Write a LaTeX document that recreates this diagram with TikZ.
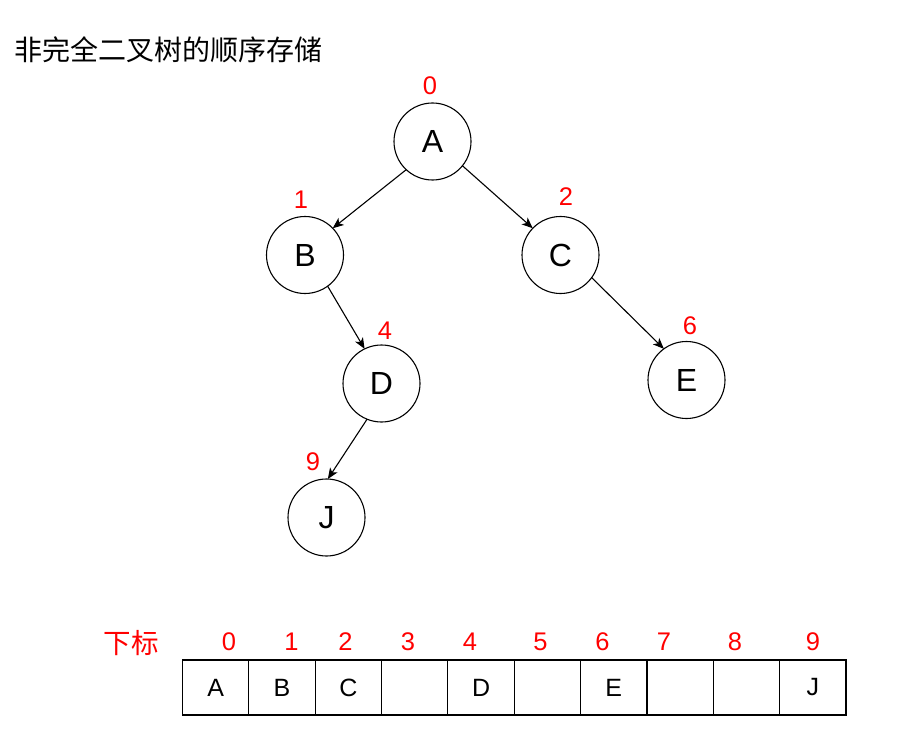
\documentclass[tikz,border=0pt]{standalone}
\usepackage{fontspec}
\setmainfont{Liberation Sans}
\newfontfamily\cjk{Noto Sans CJK SC}
\usetikzlibrary{arrows.meta}
\begin{document}
\begin{tikzpicture}[x=1pt,y=-1pt,
  tnode/.style={circle,draw,line width=1.1pt,minimum size=77pt,inner sep=0pt,outer sep=0pt,font=\fontsize{32}{32}\selectfont},
  idx/.style={text=red,inner sep=0pt,font=\fontsize{25.5}{25.5}\selectfont},
  cell/.style={draw,line width=1.1pt,minimum width=66.35pt,minimum height=55pt,inner sep=0pt,outer sep=0pt,font=\fontsize{25}{25}\selectfont},
  arr/.style={line width=1.1pt,-{Stealth[length=11pt,width=9pt,inset=3pt]}}]
\useasboundingbox[fill=white] (0,0) rectangle (908,733);
\node[anchor=west,inner sep=0pt,font=\cjk\fontsize{28}{28}\selectfont] (title) at (14,50) {非完全二叉树的顺序存储};
% tree nodes
\node[tnode] (A) at (432.5,141.5) {A};
\node[tnode] (B) at (305,255) {B};
\node[tnode] (C) at (560.5,255) {C};
\node[tnode] (D) at (381.5,383.5) {D};
\node[tnode] (E) at (686.5,380) {E};
\node[tnode] (J) at (326.5,517.5) {J};
% index labels
\node[idx] (l0) at (430,86) {0};
\node[idx] (l1) at (301,200) {1};
\node[idx] (l2) at (566,197) {2};
\node[idx] (l4) at (385,331) {4};
\node[idx] (l6) at (690,326) {6};
\node[idx] (l9) at (313,462) {9};
% edges
\draw[arr] (A.227) -- (B.44);
\draw[arr] (A.321) -- (C.136);
\draw[arr] (B.306) -- (D.116);
\draw[arr] (C.324) -- (E.126);
\draw[arr] (D.248) -- (J.88);
% array
\node[text=red,inner sep=0pt,font=\cjk\fontsize{27.5}{27.5}\selectfont] (xb) at (131,643) {下标};
\foreach \i/\t in {0/A,1/B,2/C,3/,4/D,5/,6/E,7/,8/,9/J}{
  \node[cell] (c\i) at ({182.5+66.35*(\i+0.5)},687.5) {\t};
}
\foreach \i/\x in {0/229,1/291.5,2/345.5,3/408,4/470,5/540.5,6/602.5,7/664,8/735,9/813}{
  \node[idx] (d\i) at (\x,641.5) {\i};
}
\end{tikzpicture}
\end{document}
